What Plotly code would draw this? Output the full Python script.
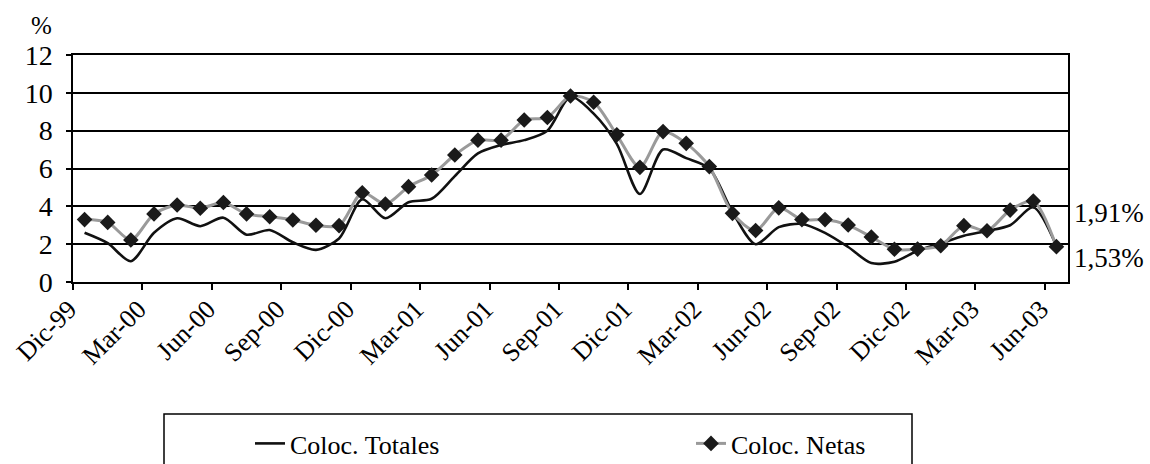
import plotly.graph_objects as go

months = ["Dic-99",
          "Ene-00", "Feb-00", "Mar-00", "Abr-00", "May-00", "Jun-00", "Jul-00", "Ago-00", "Sep-00", "Oct-00", "Nov-00", "Dic-00",
          "Ene-01", "Feb-01", "Mar-01", "Abr-01", "May-01", "Jun-01", "Jul-01", "Ago-01", "Sep-01", "Oct-01", "Nov-01", "Dic-01",
          "Ene-02", "Feb-02", "Mar-02", "Abr-02", "May-02", "Jun-02", "Jul-02", "Ago-02", "Sep-02", "Oct-02", "Nov-02", "Dic-02",
          "Ene-03", "Feb-03", "Mar-03", "Abr-03", "May-03", "Jun-03"]

coloc_totales = [2.6, 2.05, 1.1, 2.6, 3.37, 2.95, 3.4, 2.5, 2.75, 2.1, 1.7, 2.3,
                 4.37, 3.37, 4.22, 4.4, 5.6, 6.8, 7.24, 7.5, 8.0, 9.8, 8.9, 7.3,
                 4.65, 7.0, 6.55, 6.0, 3.7, 2.0, 2.9, 3.07, 2.6, 1.85, 1.0, 1.07,
                 1.65, 2.04, 2.45, 2.7, 3.0, 3.95, 1.9]

coloc_netas = [3.3, 3.15, 2.22, 3.6, 4.07, 3.9, 4.2, 3.6, 3.45, 3.28, 3.0, 2.98,
               4.72, 4.12, 5.04, 5.66, 6.71, 7.5, 7.5, 8.56, 8.7, 9.83, 9.5, 7.78,
               6.06, 7.95, 7.33, 6.1, 3.63, 2.72, 3.92, 3.3, 3.3, 3.01, 2.38, 1.73,
               1.74, 1.92, 2.98, 2.71, 3.8, 4.28, 1.87]

label_every = 3
side_labels = ["1,91%", "1,53%"]
side_label_levels = [3.67, 1.27]

x_idx = list(range(len(months)))
tick_pos = [i - 0.5 for i in x_idx[::label_every]]
tick_txt = months[::label_every]

FONT = "Liberation Serif, Times New Roman, serif"

fig = go.Figure()
fig.add_trace(go.Scatter(
    x=x_idx, y=coloc_totales, name="Coloc. Totales", mode="lines",
    line=dict(color="#111111", width=2.6, shape="spline", smoothing=0.8),
))
fig.add_trace(go.Scatter(
    x=x_idx, y=coloc_netas, name="Coloc. Netas", mode="lines+markers",
    line=dict(color="#9a9a9a", width=3, shape="spline", smoothing=0.8),
    marker=dict(symbol="diamond", size=12, color="#1a1a1a", line=dict(width=0)),
))

W, H = 1150, 464
ml, mr, mt, mb = 73, 82, 55, 182
pw = W - ml - mr
ph = H - mt - mb

def px_x(p):
    return (p - ml) / pw

def px_y(p):
    return (H - mb - p) / ph

fig.update_layout(
    width=W, height=H,
    margin=dict(l=ml, r=mr, t=mt, b=mb, autoexpand=False),
    paper_bgcolor="white", plot_bgcolor="white",
    font=dict(family=FONT, size=26, color="black"),
    showlegend=True,
    legend=dict(
        orientation="h", x=px_x(250), xanchor="left", y=px_y(420), yanchor="top",
        bgcolor="rgba(0,0,0,0)", borderwidth=0,
        font=dict(family=FONT, size=26, color="black"),
        entrywidth=396, entrywidthmode="pixels",
    ),
    xaxis=dict(
        range=[-0.5, len(months) - 0.5],
        tickmode="array", tickvals=tick_pos, ticktext=tick_txt,
        tickangle=-45, ticks="outside", ticklen=6, tickwidth=1.5, tickcolor="black",
        ticklabelstandoff=-6, ticklabelshift=-4,
        showline=True, linecolor="black", linewidth=1.5, mirror=True,
        showgrid=False, zeroline=False,
        tickfont=dict(family=FONT, size=26, color="black"),
    ),
    yaxis=dict(
        range=[0, 12], dtick=2, tick0=0,
        ticks="outside", ticklen=5, tickwidth=1.5, tickcolor="black",
        showline=True, linecolor="black", linewidth=1.5, mirror=True,
        showgrid=True, gridcolor="black", gridwidth=1.5, zeroline=False,
        tickfont=dict(family=FONT, size=28, color="black"),
        ticklabelstandoff=8,
    ),
    shapes=[dict(
        type="rect", xref="paper", yref="paper",
        x0=px_x(164), x1=px_x(912), y0=px_y(500), y1=px_y(414),
        line=dict(color="black", width=1.5), fillcolor="rgba(0,0,0,0)", layer="below",
    )],
    annotations=[
        dict(text="%", xref="paper", yref="paper", x=px_x(41), y=px_y(25),
             xanchor="center", yanchor="middle", showarrow=False,
             font=dict(family=FONT, size=25, color="black")),
    ] + [
        dict(text=t, xref="paper", yref="y", x=px_x(1072), y=v,
             xanchor="left", yanchor="middle", showarrow=False,
             font=dict(family=FONT, size=27, color="black"))
        for t, v in zip(side_labels, side_label_levels)
    ],
)

fig.write_html("out.html", config={"displayModeBar": False},
               post_script="document.body.style.margin='0';")
